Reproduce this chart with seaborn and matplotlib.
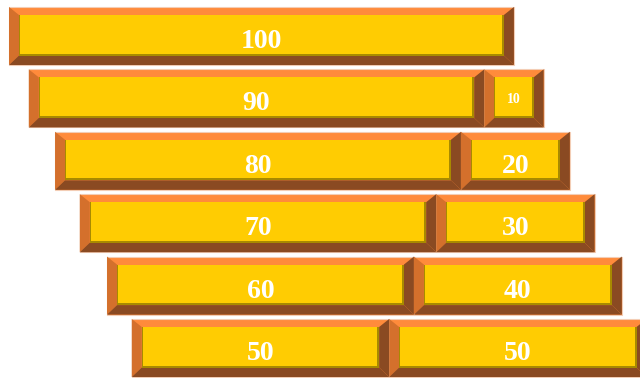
import matplotlib
matplotlib.use("Agg")
import matplotlib.pyplot as plt
import seaborn as sns
import pandas as pd
from matplotlib.patches import Polygon, Rectangle

# ---------------------------------------------------
# data: an invisible base series plus two visible stacked series
rows = ["r1", "r2", "r3", "r4", "r5", "r6"]
offset = [0, 4, 9.3, 14.3, 19.8, 24.8]
first = [100, 90, 80, 70, 60, 50]
second = [0, 10, 20, 30, 40, 50]

# ---------------------------------------------------
TOP = "#FF8B3B"
LEFT = "#D4702C"
DARK = "#8A4A22"
FACE = "#FFCC02"
SHADE = "#A88A00"
EDGE = "#F3CDB5"
PAD = 2.0                      # each segment is drawn a bit wider than its value
UX = 4.95                      # pixels per x unit
UY = 62.4                      # pixels per row

sns.set_style("white")
plt.rcParams['font.family'] = ['Liberation Serif', 'DejaVu Serif']

fig = plt.figure(figsize=(6.4, 3.78), dpi=100)
ax = fig.add_axes([0, 0, 1, 1])

df1 = pd.DataFrame({"row": rows, "value": first, "left": offset})
df2 = pd.DataFrame({"row": rows, "value": second,
                    "left": [o + f + PAD for o, f in zip(offset, first)]})
df2 = df2[df2["value"] > 0]

for df in (df1, df2):
    sns.barplot(data=df.assign(w=df["value"] + PAD), x="w", y="row",
                order=rows, orient="h", width=0.93, color=TOP, saturation=1,
                errorbar=None, left=df["left"].values, ax=ax)

ax.set_xlim(-9 / UX, 631 / UX)
ax.set_ylim(5.481, -0.577)
ax.axis("off")

# ----------------------------------------------
# bevel every bar
bx, ty, by = 10 / UX, 8 / UY, 9.5 / UY
sl, sr, sy = 1 / UX, 2 / UX, 2 / UY
for bar in list(ax.patches):
    bar.set_facecolor(TOP)
    bar.set_edgecolor(EDGE)
    bar.set_linewidth(0.8)
    x0, y0 = bar.get_x(), bar.get_y()
    x1, y1 = x0 + bar.get_width(), y0 + bar.get_height()
    ax.add_patch(Polygon([(x0, y0), (x0 + bx, y0 + ty), (x0 + bx, y1 - by), (x0, y1)],
                         closed=True, facecolor=LEFT, lw=0, zorder=3))
    ax.add_patch(Polygon([(x1, y0), (x1 - bx, y0 + ty), (x1 - bx, y1 - by), (x1, y1)],
                         closed=True, facecolor=DARK, lw=0, zorder=3))
    ax.add_patch(Polygon([(x0, y1), (x0 + bx, y1 - by), (x1 - bx, y1 - by), (x1, y1)],
                         closed=True, facecolor=DARK, lw=0, zorder=3))
    ax.add_patch(Rectangle((x0 + bx, y0 + ty), x1 - x0 - 2 * bx, y1 - y0 - ty - by,
                           facecolor=SHADE, lw=0, zorder=4))
    ax.add_patch(Rectangle((x0 + bx + sl, y0 + ty), x1 - x0 - 2 * bx - sl - sr,
                           y1 - y0 - ty - by - sy, facecolor=FACE, lw=0, zorder=5))

# ----------------------------------------------
# value labels
for i, (o, a, b) in enumerate(zip(offset, first, second)):
    segs = [(o, a)]
    if b > 0:
        segs.append((o + a + PAD, b))
    for left, v in segs:
        size = 10 if v <= 10 else 20
        drop = 5 if v <= 10 else 12
        ax.text(left + (v + PAD) / 2, i + drop / UY, str(v), color="white",
                fontsize=size, fontweight="bold", ha="center", va="baseline",
                zorder=6)

fig.savefig("out.png", dpi=100)
